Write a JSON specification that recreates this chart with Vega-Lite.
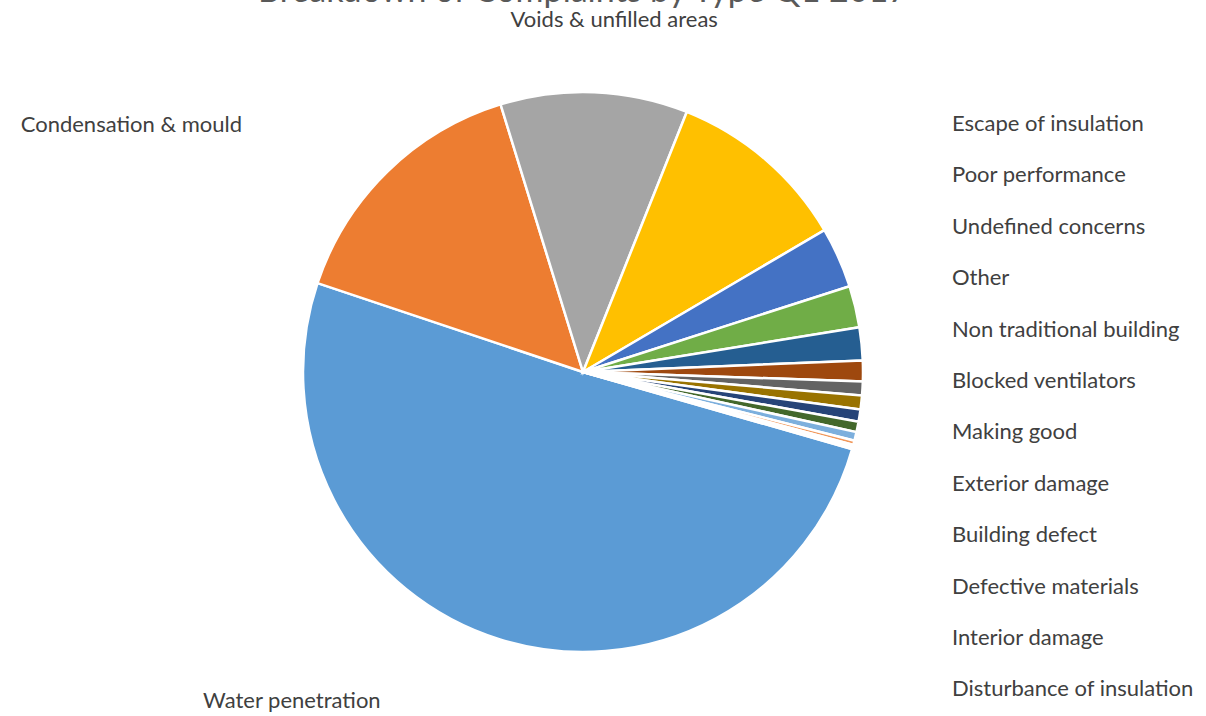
{
  "$schema": "https://vega.github.io/schema/vega-lite/v6.json",
  "width": 1166,
  "height": 688,
  "autosize": {"type": "none"},
  "padding": {"left": 0, "top": 28, "right": 40, "bottom": 0},
  "background": "white",
  "title": {
    "text": "Breakdown of Complaints by Type Q1 2017",
    "font": "Lato",
    "fontSize": 34,
    "fontWeight": "normal",
    "color": "#595959",
    "anchor": "middle",
    "baseline": "alphabetic",
    "offset": 10,
    "dy": 37
  },
  "config": {"view": {"stroke": null}},
  "data": {
    "values": [
      {"type": "Water penetration", "share": 50.7, "rank": 1},
      {"type": "Condensation & mould", "share": 15.1, "rank": 2},
      {"type": "Voids & unfilled areas", "share": 10.8, "rank": 3},
      {"type": "Unlabelled", "share": 10.5, "rank": 4},
      {"type": "Escape of insulation", "share": 3.5, "rank": 5},
      {"type": "Poor performance", "share": 2.4, "rank": 6},
      {"type": "Undefined concerns", "share": 1.9, "rank": 7},
      {"type": "Other", "share": 1.2, "rank": 8},
      {"type": "Non traditional building", "share": 0.8, "rank": 9},
      {"type": "Blocked ventilators", "share": 0.8, "rank": 10},
      {"type": "Making good", "share": 0.7, "rank": 11},
      {"type": "Exterior damage", "share": 0.6, "rank": 12},
      {"type": "Building defect", "share": 0.5, "rank": 13},
      {"type": "Defective materials", "share": 0.25, "rank": 14},
      {"type": "Interior damage", "share": 0.15, "rank": 15},
      {"type": "Disturbance of insulation", "share": 0.1, "rank": 16}
    ]
  },
  "encoding": {
    "theta": {"field": "share", "type": "quantitative", "stack": true, "scale": {"range": [1.85, 8.1332]}},
    "order": {"field": "rank", "type": "quantitative"}
  },
  "layer": [
    {
      "mark": {"type": "arc", "outerRadius": 280, "stroke": "white", "strokeWidth": 2.5},
      "encoding": {
        "color": {
          "field": "type",
          "type": "nominal",
          "scale": {
            "domain": ["Water penetration", "Condensation & mould", "Voids & unfilled areas", "Unlabelled", "Escape of insulation", "Poor performance", "Undefined concerns", "Other", "Non traditional building", "Blocked ventilators", "Making good", "Exterior damage", "Building defect", "Defective materials", "Interior damage", "Disturbance of insulation"],
            "range": ["#5B9BD5", "#ED7D31", "#A5A5A5", "#FFC000", "#4472C4", "#70AD47", "#255E91", "#9E480E", "#636363", "#997300", "#264478", "#43682B", "#7CAFDD", "#F1975A", "#B7B7B7", "#FFCD33"]
          },
          "legend": {
            "values": ["Escape of insulation", "Poor performance", "Undefined concerns", "Other", "Non traditional building", "Blocked ventilators", "Making good", "Exterior damage", "Building defect", "Defective materials", "Interior damage", "Disturbance of insulation"],
            "orient": "none",
            "legendX": 930,
            "legendY": 85,
            "title": null,
            "symbolSize": 0,
            "symbolOpacity": 0,
            "symbolStrokeWidth": 0,
            "labelOffset": 0,
            "labelFont": "Lato",
            "labelFontSize": 22,
            "labelColor": "#404040",
            "labelLimit": 400,
            "rowPadding": 29.4,
            "padding": 0
          }
        }
      }
    },
    {
      "mark": {"type": "text", "radius": 345, "align": "right", "baseline": "middle", "dx": -100, "font": "Lato", "fontSize": 22, "color": "#404040"},
      "encoding": {
        "text": {"condition": {"test": "datum.rank <= 2", "field": "type"}, "value": ""}
      }
    },
    {
      "mark": {"type": "text", "radius": 352, "align": "center", "baseline": "middle", "dx": 17, "font": "Lato", "fontSize": 22, "color": "#404040"},
      "encoding": {
        "text": {"condition": {"test": "datum.rank == 3", "field": "type"}, "value": ""}
      }
    }
  ]
}
